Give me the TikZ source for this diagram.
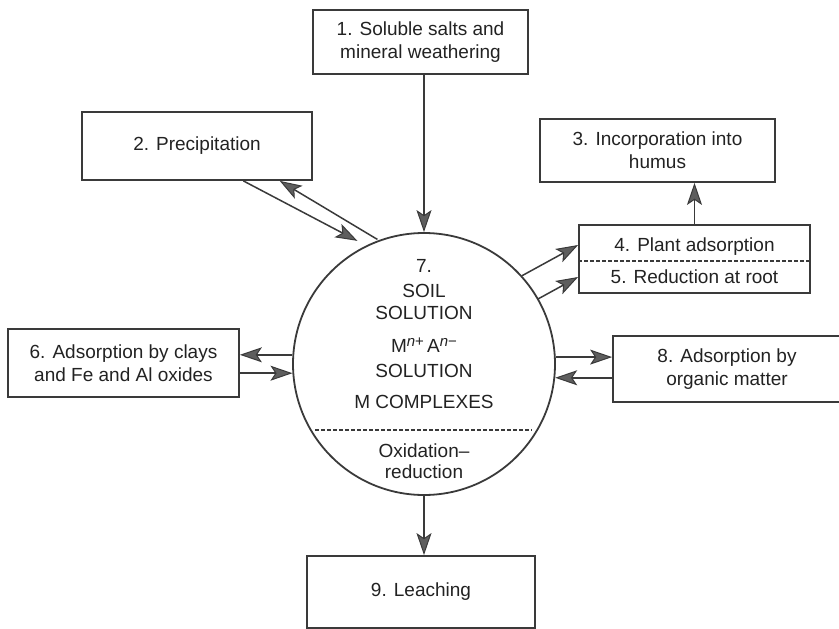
\documentclass[tikz,border=0pt]{standalone}
\usepackage{fontspec}
\setmainfont{Liberation Sans}
\usetikzlibrary{arrows.meta,calc}
\definecolor{ink}{HTML}{3A3A3A}
\definecolor{txt}{HTML}{222222}
\definecolor{tipfill}{HTML}{5E5E5E}
\begin{document}
\begin{tikzpicture}[x=1pt,y=1pt,
  every node/.style={font=\fontsize{19}{23}\selectfont, text=txt},
  boxn/.style={draw=ink, line width=1.8pt, rectangle, align=center, inner sep=0pt},
  arr/.style={draw=ink, line width=1.5pt, -{Stealth[length=22pt,width=15pt,inset=5pt,fill=tipfill,line width=1pt]}},
  dline/.style={draw=ink, line width=1.2pt, dash pattern=on 4pt off 2pt},
  ctext/.style={anchor=base, inner sep=0pt}]
\useasboundingbox (0,0) rectangle (839,-629);
\clip (0,0) rectangle (839,-629);
% boxes
\node[boxn, minimum width=215, minimum height=64] (b1) at (420.5,-42) {1. Soluble salts and\\mineral weathering};
\node[boxn, minimum width=230, minimum height=68] (b2) at (197,-146) {2. Precipitation};
\node[boxn, minimum width=235, minimum height=63] (b3) at (657.5,-150.5) {3. Incorporation into\\humus};
\node[boxn, minimum width=231, minimum height=68] (b45) at (694.5,-259) {};
\node[anchor=base, inner sep=0pt] (t4) at (694.5,-251) {4. Plant adsorption};
\node[anchor=base, inner sep=0pt] (t5) at (694.5,-283) {5. Reduction at root};
\draw[dline] (b45.west) ++(0,-2) coordinate (d4a) -- (d4a -| b45.east);
\node[boxn, minimum width=231, minimum height=68] (b6) at (123.5,-363) {6. Adsorption by clays\\and Fe and Al oxides};
\node[boxn, minimum width=240, minimum height=66] (b8) at (733,-369) {};
\node[align=center, inner sep=0pt] (t8) at (727,-369) {8. Adsorption by\\organic matter};
\node[boxn, minimum width=228, minimum height=72] (b9) at (421,-592) {9. Leaching};
% circle
\node[draw=ink, line width=1.8pt, circle, minimum size=262, inner sep=0pt] (c) at (424,-364) {};
\node[ctext] (c1) at (424,-272) {7.};
\node[ctext] (c2) at (424,-297) {SOIL};
\node[ctext] (c3) at (424,-319) {SOLUTION};
\node[ctext] (c4) at (424,-352) {M\raisebox{6pt}{\fontsize{15}{15}\selectfont\itshape n\upshape +}\,A\raisebox{6pt}{\fontsize{15}{15}\selectfont\itshape n\upshape −}};
\node[ctext] (c5) at (424,-377) {SOLUTION};
\node[ctext] (c6) at (424,-408) {M COMPLEXES};
\coordinate (dl) at (315,-430);
\coordinate (dr) at (532,-430);
\draw[dline] (dl) -- (dr);
\node[ctext] (c7) at (424,-457) {Oxidation–};
\node[ctext] (c8) at (424,-478) {reduction};
% connectors
\draw[arr] (c.north |- b1.south) -- (c.north);
\draw[arr] (c.south) -- (c.south |- b9.north);
\draw[arr] ($(b2.south west)!0.70!(b2.south east)$) -- ($(c.center)+(118.4:140)$);
\draw[arr] ($(c.center)+(110.5:133)$) -- ($(b2.south west)!0.857!(b2.south east)$);
\draw[arr] ($(c.center)+(42:132)$) -- ($(b45.west)+(0,14)$);
\draw[arr] ($(c.center)+(29.7:131)$) -- ($(b45.west)+(0,-18)$);
\draw[arr] (b45.north) -- (b45.north |- b3.south);
\draw[arr] (c.176) -- (c.176 -| b6.east);
\draw[arr] (b6.east |- c.184) -- (c.184);
\draw[arr] (c.3) -- (c.3 -| b8.west);
\draw[arr] (b8.west |- c.354) -- (c.354);
\end{tikzpicture}
\end{document}
